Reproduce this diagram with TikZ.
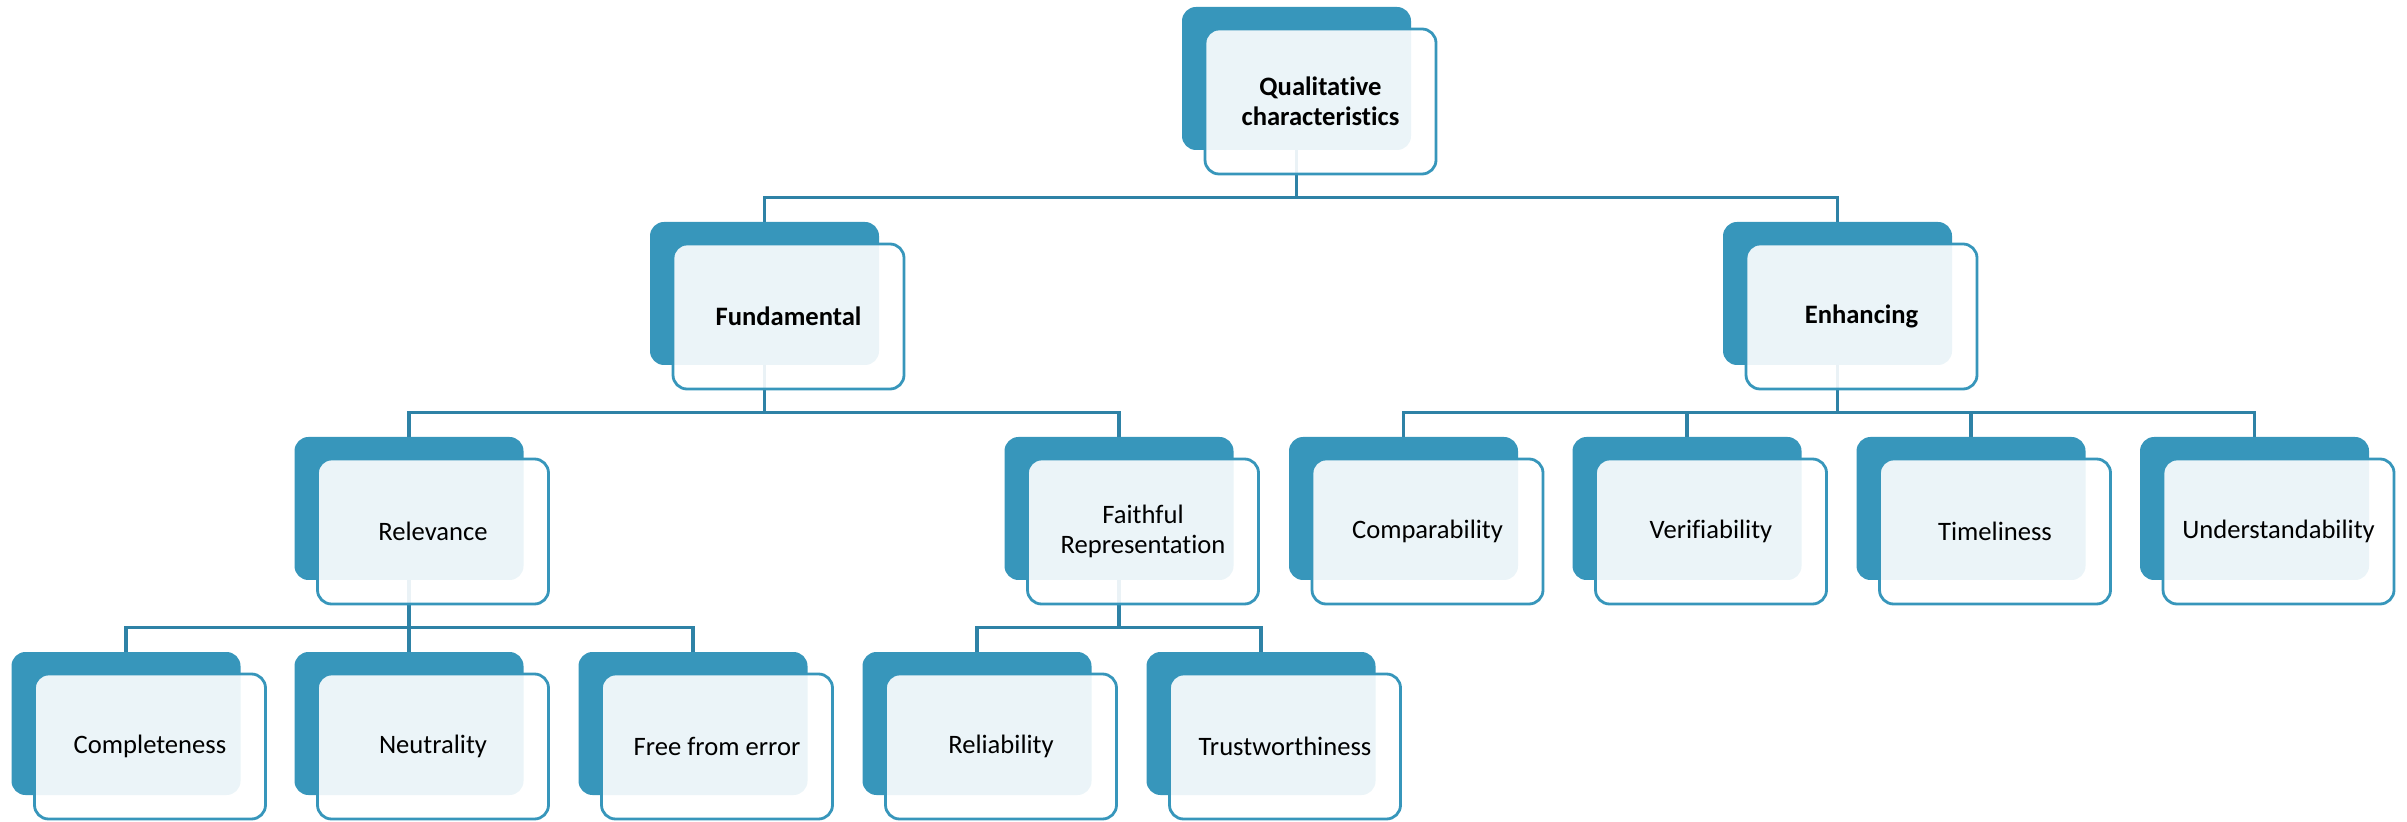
\documentclass[tikz,border=0pt]{standalone}
\usepackage{fontspec}
\setmainfont{Carlito}[Ligatures=NoCommon]
\usepackage{tikz}
\usetikzlibrary{positioning, backgrounds}

\definecolor{qcblue}{HTML}{3796BB}
\definecolor{qcline}{HTML}{2E82A6}

\begin{document}
\begin{tikzpicture}[
  x=0.5pt, y=0.5pt,
  font=\fontsize{13.3}{15}\selectfont,
  back/.style={rectangle, fill=qcblue, rounded corners=7pt,
               minimum width=114.5pt, minimum height=71.5pt},
  front/.style={rectangle, draw=qcblue, line width=1.4pt, fill=white,
                fill opacity=0.9, text opacity=1, rounded corners=7pt,
                minimum width=115.5pt, minimum height=72.5pt, align=center},
  link/.style={draw=qcline, line width=1.6pt}
]
\useasboundingbox (0,0) rectangle (2407,-822);

% Boxes (back plate + front card)
\foreach \n/\x/\y/\lab in {
  qc/1296.5/78.5/{\textbf{Qualitative}\\\textbf{characteristics}},
  fund/764.5/293.5/{\textbf{Fundamental}},
  enh/1837.5/293.5/{\textbf{Enhancing}},
  rel/409/508.5/{Relevance},
  faith/1119/508.5/{Faithful\\Representation},
  comp/1403.5/508.5/{Comparability},
  ver/1687/508.5/{Verifiability},
  time/1971/508.5/{Timeliness},
  und/2254.5/508.5/{Understandability},
  compl/126/723.5/{Completeness},
  neut/409/723.5/{Neutrality},
  free/693/723.5/{Free from error},
  reli/977/723.5/{Reliability},
  trust/1261/723.5/{Trustworthiness}}{
  \node[back] (\n-b) at (\x,-\y) {};
  \node[front] (\n) at ([shift={(12pt,-11.5pt)}]\n-b.center) {\lab};
}

% Connectors
\begin{scope}[on background layer]
\foreach \p/\kids in {qc/{fund,enh}, fund/{rel,faith},
                      enh/{comp,ver,time,und}, rel/{compl,neut,free},
                      faith/{reli,trust}}{
  \coordinate (\p-bar) at ([yshift=-23.5pt]\p-b.south);
  \draw[link] (\p-b.south) -- (\p-bar);
  \foreach \k in \kids{
    \draw[link] (\p-bar) -| (\k-b.north);
  }
}
\end{scope}

\end{tikzpicture}
\end{document}
